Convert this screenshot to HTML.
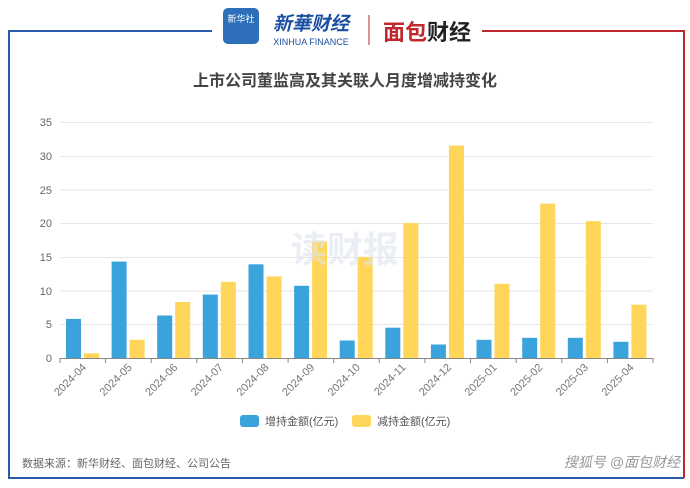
<!DOCTYPE html><html><head><meta charset="utf-8"><style>body{margin:0;background:#fff}svg{display:block}text{font-family:"Liberation Sans","Noto Sans CJK SC",sans-serif}</style></head><body>
<svg width="690" height="488" viewBox="0 0 690 488">
<rect width="690" height="488" fill="#fff"/>
<path d="M212 31H9V478H684" fill="none" stroke="#2a5aa8" stroke-width="2"/>
<path d="M482 31H684V478" fill="none" stroke="#c0282e" stroke-width="2"/>
<rect x="223" y="8" width="36" height="36" rx="5" fill="#2d6fb8"/>
<text x="241" y="22" font-size="9" fill="#fff" text-anchor="middle">新华社</text>
<text x="311" y="30" font-size="19" font-weight="bold" fill="#1b4fa3" text-anchor="middle" font-style="italic">新華财经</text>
<text x="311" y="45" font-size="9" font-family="Liberation Serif" fill="#1b4fa3" text-anchor="middle">XINHUA FINANCE</text>
<line x1="369" y1="15" x2="369" y2="45" stroke="#c0282e" stroke-width="1"/>
<text x="427" y="40" font-size="22" font-weight="bold" fill="#c0282e" text-anchor="middle">面包<tspan fill="#222">财经</tspan></text>
<text x="345" y="86" font-size="16" font-weight="bold" fill="#444" text-anchor="middle">上市公司董监高及其关联人月度增减持变化</text>
<g stroke="#e6e6e6" stroke-width="1">
<line x1="60" y1="122.5" x2="653" y2="122.5"/><line x1="60" y1="156.5" x2="653" y2="156.5"/><line x1="60" y1="190" x2="653" y2="190"/><line x1="60" y1="223.5" x2="653" y2="223.5"/><line x1="60" y1="257.5" x2="653" y2="257.5"/><line x1="60" y1="291" x2="653" y2="291"/><line x1="60" y1="324.5" x2="653" y2="324.5"/>
</g>
<g font-size="11" fill="#666" text-anchor="end">
<text x="52" y="126">35</text><text x="52" y="160">30</text><text x="52" y="194">25</text><text x="52" y="227">20</text><text x="52" y="261">15</text><text x="52" y="295">10</text><text x="52" y="328">5</text><text x="52" y="362">0</text>
</g>
<g fill="#3aa3dc">
<rect x="66" y="318.9" width="15" height="39.1"/>
<rect x="111.6" y="261.6" width="15" height="96.4"/>
<rect x="157.2" y="315.5" width="15" height="42.5"/>
<rect x="202.8" y="294.6" width="15" height="63.4"/>
<rect x="248.5" y="264.3" width="15" height="93.7"/>
<rect x="294.1" y="285.8" width="15" height="72.2"/>
<rect x="339.7" y="340.5" width="15" height="17.5"/>
<rect x="385.3" y="327.7" width="15" height="30.3"/>
<rect x="430.9" y="344.5" width="15" height="13.5"/>
<rect x="476.5" y="339.8" width="15" height="18.2"/>
<rect x="522.2" y="337.8" width="15" height="20.2"/>
<rect x="567.8" y="337.8" width="15" height="20.2"/>
<rect x="613.4" y="341.8" width="15" height="16.2"/>
</g>
<g fill="#ffd659">
<rect x="84" y="353.3" width="15" height="4.7"/>
<rect x="129.6" y="339.8" width="15" height="18.2"/>
<rect x="175.2" y="302" width="15" height="56"/>
<rect x="220.8" y="281.8" width="15" height="76.2"/>
<rect x="266.5" y="276.4" width="15" height="81.6"/>
<rect x="312.1" y="241.3" width="15" height="116.7"/>
<rect x="357.7" y="256.9" width="15" height="101.1"/>
<rect x="403.3" y="223.1" width="15" height="134.9"/>
<rect x="448.9" y="145.6" width="15" height="212.4"/>
<rect x="494.5" y="283.8" width="15" height="74.2"/>
<rect x="540.2" y="203.6" width="15" height="154.4"/>
<rect x="585.8" y="221.1" width="15" height="136.9"/>
<rect x="631.4" y="304.7" width="15" height="53.3"/>
</g>
<text x="345" y="262" font-size="36" font-weight="bold" fill="#dfe6f0" text-anchor="middle" opacity="0.6">读财报</text>
<line x1="60" y1="358.5" x2="653" y2="358.5" stroke="#888"/>
<g stroke="#888">
<line x1="60" y1="358" x2="60" y2="363"/><line x1="105.6" y1="358" x2="105.6" y2="363"/><line x1="151.2" y1="358" x2="151.2" y2="363"/><line x1="196.8" y1="358" x2="196.8" y2="363"/><line x1="242.5" y1="358" x2="242.5" y2="363"/><line x1="288.1" y1="358" x2="288.1" y2="363"/><line x1="333.7" y1="358" x2="333.7" y2="363"/><line x1="379.3" y1="358" x2="379.3" y2="363"/><line x1="424.9" y1="358" x2="424.9" y2="363"/><line x1="470.5" y1="358" x2="470.5" y2="363"/><line x1="516.2" y1="358" x2="516.2" y2="363"/><line x1="561.8" y1="358" x2="561.8" y2="363"/><line x1="607.4" y1="358" x2="607.4" y2="363"/><line x1="653" y1="358" x2="653" y2="363"/>
</g>
<g font-size="11" fill="#777" text-anchor="end">
<text x="87" y="368" transform="rotate(-45 87 368)">2024-04</text>
<text x="132.6" y="368" transform="rotate(-45 132.6 368)">2024-05</text>
<text x="178.2" y="368" transform="rotate(-45 178.2 368)">2024-06</text>
<text x="223.8" y="368" transform="rotate(-45 223.8 368)">2024-07</text>
<text x="269.5" y="368" transform="rotate(-45 269.5 368)">2024-08</text>
<text x="315.1" y="368" transform="rotate(-45 315.1 368)">2024-09</text>
<text x="360.7" y="368" transform="rotate(-45 360.7 368)">2024-10</text>
<text x="406.3" y="368" transform="rotate(-45 406.3 368)">2024-11</text>
<text x="451.9" y="368" transform="rotate(-45 451.9 368)">2024-12</text>
<text x="497.5" y="368" transform="rotate(-45 497.5 368)">2025-01</text>
<text x="543.2" y="368" transform="rotate(-45 543.2 368)">2025-02</text>
<text x="588.8" y="368" transform="rotate(-45 588.8 368)">2025-03</text>
<text x="634.4" y="368" transform="rotate(-45 634.4 368)">2025-04</text>
</g>
<rect x="240" y="415" width="19" height="12" rx="3" fill="#3aa3dc"/>
<text x="265" y="425" font-size="11" fill="#555">增持金额(亿元)</text>
<rect x="352" y="415" width="19" height="12" rx="3" fill="#ffd659"/>
<text x="377" y="425" font-size="11" fill="#555">减持金额(亿元)</text>
<text x="22" y="467" font-size="11" fill="#666">数据来源：新华财经、面包财经、公司公告</text>
<text x="680" y="467" font-size="14" fill="#999" text-anchor="end" font-style="italic">搜狐号 @面包财经</text>
</svg></body></html>
